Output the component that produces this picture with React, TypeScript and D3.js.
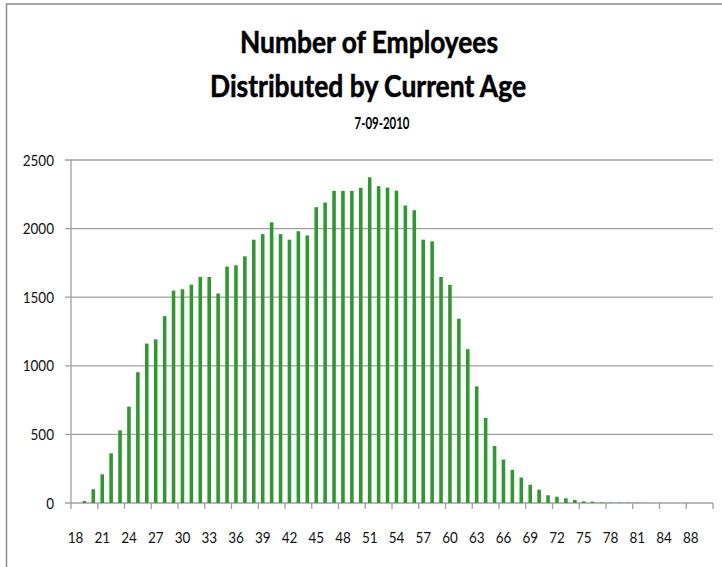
import React from 'react';
import { scaleBand, scaleLinear, range } from 'd3';

// ages on the category axis (87 is not in the data)
const ages = [
  ...range(18, 87).map(String),
  '88', '89', '90',
];
// employees per age
const counts = [
  0, 15, 100, 209, 362, 530, 703, 953, 1162, 1193,
  1362, 1548, 1558, 1592, 1648, 1648, 1527, 1723, 1732, 1798,
  1919, 1960, 2046, 1960, 1919, 1981, 1950, 2156, 2190, 2275,
  2275, 2275, 2297, 2374, 2309, 2299, 2277, 2168, 2134, 1919,
  1907, 1648, 1590, 1343, 1121, 850, 620, 415, 317, 242,
  186, 133, 97, 56, 46, 34, 22, 12, 10, 4,
  3, 3, 3, 2, 1, 1, 0, 0, 0, 0,
  0, 0,
];
const yTicks = [0, 500, 1000, 1500, 2000, 2500];
const titleLines = ['Number of Employees', 'Distributed by Current Age'];
const subtitle = '7-09-2010';

const W = 722;
const H = 567;
const left = 71, right = 713, top = 160, bottom = 503;
const grid = '#a0a0a0';

// the source font is taller and narrower than Lato, so stretch text a bit vertically
const Txt = ({ x, y, sy = 1.2, children, ...rest }: any) => (
  <text transform={`translate(${x},${y}) scale(1,${sy})`} {...rest}>{children}</text>
);

const App = () => {
  const x = scaleBand<string>().domain(ages).range([left, right]).paddingInner(0.6).paddingOuter(0.3);
  const y = scaleLinear().domain([0, 2500]).range([bottom, top]);
  const step = x.step();
  // a tick mark every third category boundary
  const boundaries = range(0, ages.length + 1, 3);

  return (
    <svg width={W} height={H} style={{ position: 'absolute', left: 0, top: 0 }} fontFamily="Lato, 'Open Sans', sans-serif">
      <rect x={0} y={0} width={W} height={H} fill="#fff" />
      <rect x={6.5} y={4} width={W + 10} height={H + 10} fill="none" stroke="#8a8a8a" strokeWidth={1.5} />

      {/* titles */}
      <Txt x={369} y={53} sy={1.12} textAnchor="middle" fontWeight="bold" fontSize={27} textLength={258} lengthAdjust="spacingAndGlyphs" stroke="#000" strokeWidth={0.5}>{titleLines[0]}</Txt>
      <Txt x={368} y={97} sy={1.12} textAnchor="middle" fontWeight="bold" fontSize={27} textLength={316} lengthAdjust="spacingAndGlyphs" stroke="#000" strokeWidth={0.5}>{titleLines[1]}</Txt>
      <Txt x={382} y={129} textAnchor="middle" fontWeight="bold" fontSize={14} textLength={55} lengthAdjust="spacingAndGlyphs">{subtitle}</Txt>

      {/* gridlines + y axis */}
      {yTicks.map(t => (
        <g key={t}>
          <line x1={left - 6} x2={right} y1={y(t)} y2={y(t)} stroke={grid} strokeWidth={1.3} />
          <Txt x={54} y={y(t) + 5.5} textAnchor="end" fontSize={13.5} fill="#111">{t}</Txt>
        </g>
      ))}
      <line x1={left} x2={left} y1={top} y2={bottom} stroke={grid} strokeWidth={1.3} />

      {/* x tick marks and labels */}
      {boundaries.map(i => (
        <line key={i} x1={left + i * step} x2={left + i * step} y1={bottom} y2={bottom + 6} stroke={grid} strokeWidth={1.3} />
      ))}
      {boundaries.filter(i => i < ages.length).map(i => (
        <Txt key={i} x={(x(ages[i]) as number) + x.bandwidth() / 2} y={543} textAnchor="middle" fontSize={13.5} fill="#111">{ages[i]}</Txt>
      ))}

      {/* bars */}
      {counts.map((v, i) => (
        <rect key={ages[i]} x={x(ages[i])} y={y(v)} width={x.bandwidth()} height={bottom - y(v)} fill="#2c9a2c" />
      ))}
    </svg>
  );
};

export default App;
